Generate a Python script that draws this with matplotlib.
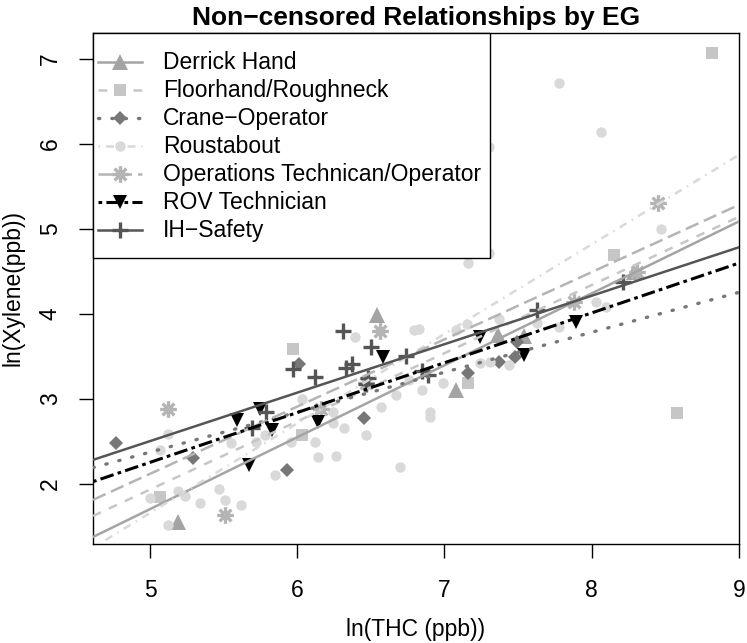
import numpy as np
import matplotlib
matplotlib.use('Agg')
import matplotlib.pyplot as plt
from matplotlib.path import Path
from matplotlib.patches import Rectangle

plt.rcParams['font.family'] = ['Liberation Sans', 'DejaVu Sans']
plt.rcParams['font.size'] = 16.5

# Exposure groups (order as in the legend)
groups = ['Derrick Hand', 'Floorhand/Roughneck', 'Crane\u2212Operator', 'Roustabout',
          'Operations Technican/Operator', 'ROV Technician', 'IH\u2212Safety']

# ln(THC) / ln(Xylene) values
derrick_x = [5.19, 6.54, 7.08, 7.36, 7.54, 8.29]
derrick_y = [1.55, 3.98, 3.10, 3.75, 3.74, 4.49]

floor_x = [5.07, 5.97, 6.03, 7.16, 8.15, 8.58, 8.82]
floor_y = [1.84, 3.58, 2.57, 3.18, 4.69, 2.83, 7.06]

crane_x = [4.77, 5.29, 5.93, 6.01, 6.45, 7.16, 7.37, 7.48, 7.49]
crane_y = [2.48, 2.30, 2.16, 3.41, 2.77, 3.30, 3.43, 3.49, 3.67]

roust_x = [5.00, 5.07, 5.12, 5.12, 5.19, 5.24, 5.34, 5.47, 5.51, 5.62,
           5.55, 5.72, 5.78, 5.85, 5.96, 6.03, 6.12, 6.14, 6.26, 6.24,
           6.24, 6.32, 6.39, 6.47, 6.57, 6.67, 6.70, 6.72, 6.79, 6.83,
           6.85, 6.90, 6.90, 6.90, 6.99, 7.08, 7.15, 7.16, 7.24, 7.30,
           7.30, 7.31, 7.37, 7.44, 7.63, 7.78, 7.78, 8.03, 8.06, 8.10,
           8.47, 6.76]
roust_y = [1.83, 2.40, 2.58, 1.51, 1.91, 1.86, 1.77, 1.94, 1.81, 1.75,
           2.48, 2.49, 2.57, 2.10, 2.49, 2.99, 2.49, 2.31, 2.32, 2.71,
           2.84, 2.65, 3.72, 2.57, 2.90, 3.04, 2.20, 5.25, 3.81, 3.82,
           3.10, 2.84, 2.78, 5.30, 3.18, 3.81, 3.88, 4.59, 3.42, 4.71,
           5.96, 3.43, 3.94, 3.39, 3.89, 3.84, 6.71, 4.14, 6.14, 4.08,
           5.00, 3.22]

ops_x = [5.12, 5.51, 6.16, 6.47, 6.56, 7.88, 8.31, 8.45]
ops_y = [2.88, 1.63, 2.88, 3.18, 3.79, 4.14, 4.49, 5.30]

rov_x = [5.59, 5.67, 5.75, 5.83, 6.14, 6.58, 7.24, 7.54, 7.89]
rov_y = [2.75, 2.22, 2.88, 2.63, 2.73, 3.49, 3.73, 3.51, 3.90]

ih_x = [5.69, 5.79, 5.97, 6.12, 6.31, 6.33, 6.37, 6.47, 6.48, 6.50,
        6.74, 6.85, 6.89, 7.63, 8.21]
ih_y = [2.66, 2.84, 3.35, 3.26, 3.79, 3.36, 3.41, 3.17, 3.24, 3.61,
        3.50, 3.32, 3.28, 4.04, 4.37]

# fitted regression lines (intercept, slope) per group
intercepts = [-2.53, -2.08, 0.02, -3.61, -1.84, -0.68, -0.35]
slopes = [0.846, 0.802, 0.470, 1.053, 0.791, 0.586, 0.570]

# asterisk marker like R's pch 8
ast = Path([(-1, 0), (1, 0), (0, -1), (0, 1),
            (-0.707, -0.707), (0.707, 0.707), (-0.707, 0.707), (0.707, -0.707)],
           [Path.MOVETO, Path.LINETO] * 4)

xs = [derrick_x, floor_x, crane_x, roust_x, ops_x, rov_x, ih_x]
ys = [derrick_y, floor_y, crane_y, roust_y, ops_y, rov_y, ih_y]
colors = ['#a4a4a4', '#c6c6c6', '#777777', '#d9d9d9', '#b4b4b4', '#000000', '#555555']
markers = ['^', 's', 'D', 'o', ast, 'v', '+']
msizes = [11, 8.5, 7.5, 7.5, 12, 10, 11]
lws = [1.8, 1.8, 1.8, 1.8, 1.8, 2.2, 1.8]
dashes = [None, (3.5, 3.5), (0.4, 3.6), (0.6, 2.4, 3.2, 2.4), (5.5, 2.4),
          (1.2, 1.4, 4.5, 1.4), None]


def marker_kw(i):
    kw = dict(marker=markers[i], markersize=msizes[i], color=colors[i])
    if i in (4, 6):
        kw.update(markerfacecolor='none', markeredgecolor=colors[i], markeredgewidth=2.4)
    else:
        kw.update(markerfacecolor=colors[i], markeredgecolor=colors[i], markeredgewidth=0)
    return kw


def line_kw(i):
    kw = dict(color=colors[i], linewidth=lws[i])
    if dashes[i] is None:
        kw['linestyle'] = '-'
    else:
        kw['linestyle'] = (0, dashes[i])
    if i == 2:
        kw['dash_capstyle'] = 'round'
        kw['linewidth'] = 2.4
    return kw


fig = plt.figure(figsize=(7.47, 6.43), dpi=100)
ax = fig.add_axes([93 / 747, 99 / 643, 646 / 747, 511 / 643])

# points
for i in range(len(groups)):
    ax.plot(xs[i], ys[i], linestyle='none', zorder=2, **marker_kw(i))

# regression lines
for i in range(len(groups)):
    ax.axline((0, intercepts[i]), slope=slopes[i], zorder=3, **line_kw(i))

ax.set_xlim(4.613, 9.0)
ax.set_ylim(1.29, 7.30)
ax.set_xticks([5, 6, 7, 8, 9])
ax.set_yticks([2, 3, 4, 5, 6, 7])
ax.set_yticklabels(['2', '3', '4', '5', '6', '7'], rotation=90, va='center')
ax.tick_params(direction='out', length=10, width=1)
ax.tick_params(axis='x', pad=15.5)
ax.tick_params(axis='y', pad=12.5)
for s in ax.spines.values():
    s.set_linewidth(1)

ax.set_xlabel('ln(THC (ppb))', labelpad=11.5)
ax.set_ylabel('ln(Xylene(ppb))', labelpad=10.5)
ax.set_title('Non\u2212censored Relationships by EG', fontsize=19, fontweight='bold', pad=6)

# legend box, drawn like R's legend()
ax.add_patch(Rectangle((0, 0.5597), 0.6146, 0.4403, transform=ax.transAxes,
                       facecolor='white', edgecolor='black', linewidth=1, zorder=5,
                       clip_on=False))
for i, name in enumerate(groups):
    yy = 0.9432 - 0.0548 * i
    ax.plot([0.0077, 0.0759], [yy, yy], transform=ax.transAxes, zorder=6,
            clip_on=False, **line_kw(i))
    ax.plot([0.0418], [yy], transform=ax.transAxes, zorder=7, linestyle='none',
            clip_on=False, **marker_kw(i))
    ax.text(0.1084, yy, name, transform=ax.transAxes, va='center', ha='left', zorder=7)

fig.savefig('out.png', dpi=100)
